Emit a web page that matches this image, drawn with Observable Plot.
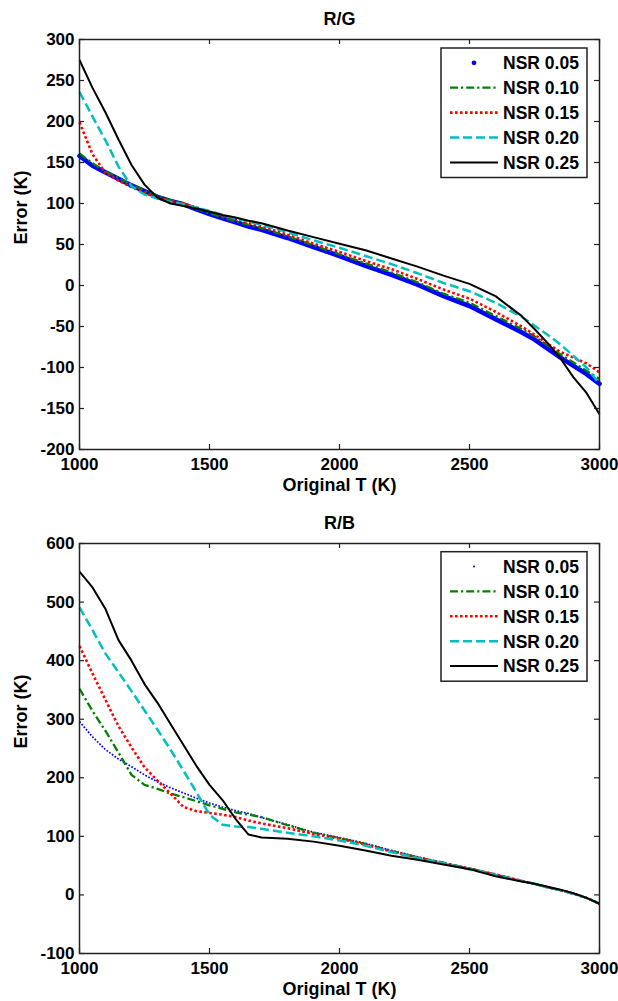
<!DOCTYPE html>
<html>
<head>
<meta charset="utf-8">
<script src="https://cdn.jsdelivr.net/npm/d3@7"></script>
<script src="https://cdn.jsdelivr.net/npm/@observablehq/plot@0.6"></script>
<style>
  body { margin: 0; background: #fff; }
  #wrap { position: relative; width: 618px; height: 1001px; overflow: hidden; background: #fff; }
  .panel { position: absolute; left: 0; display: block; }
</style>
</head>
<body>
<div id="wrap"></div>
<script>
// ---- Data ----
const T = [1000,1050,1100,1150,1200,1250,1300,1350,1400,1450,1500,1550,1600,1650,1700,1800,1900,2000,2100,2200,2300,2400,2500,2600,2700,2750,2800,2850,2900,2950,3000];

// R/G panel: error (K) for each NSR level
const rg05 = [158,146,138,130,122,115,108,103,99,93,87,82,77,72,68,58,47,36,24,13,1,-13,-25,-41,-57,-66,-77,-88,-98,-108,-120];
const rg10 = [161,149,139,131,123,116,109,104,100,94,88,83,78,74,70,60,49,38,27,16,4,-10,-21,-37,-53,-62,-73,-84,-94,-104,-114];
const rg15 = [199,160,137,128,120,113,107,103,100,95,90,85,81,76,72,62,51,41,30,20,8,-5,-16,-32,-50,-60,-71,-81,-88,-95,-106];
const rg20 = [236,206,177,145,121,111,106,102,99,95,91,86,82,78,74,65,55,46,36,26,15,3,-7,-21,-38,-49,-60,-72,-86,-100,-120];
const rg25 = [275,241,211,178,147,123,107,100,97,94,90,86,83,79,76,67,59,51,43,33,23,12,2,-13,-37,-53,-70,-89,-112,-131,-157];

// R/B panel
const rb05 = [296,270,248,232,219,205,193,183,174,165,157,150,144,139,132,120,107,98,88,76,65,55,45,35,24,19,13,8,2,-5,-15];
const rb10 = [352,314,280,243,205,188,181,173,167,160,153,147,141,137,133,119,106,97,87,75,64,55,45,35,24,19,13,8,2,-5,-15];
const rb15 = [425,378,333,288,252,218,195,173,150,143,140,137,133,127,122,114,104,96,86,74,64,54,45,35,24,19,13,8,2,-5,-15];
const rb20 = [491,452,412,380,348,315,282,248,212,175,137,120,117,116,113,106,100,93,84,73,63,54,44,34,24,19,13,8,2,-5,-15];
const rb25 = [552,525,488,435,400,360,328,292,256,220,188,162,130,103,98,96,91,84,76,67,60,52,44,32,23,19,14,9,3,-5,-15];

const seriesNames = ["NSR 0.05", "NSR 0.10", "NSR 0.15", "NSR 0.20", "NSR 0.25"];
const xTicks = [1000, 1500, 2000, 2500, 3000];
const rgYTicks = [-200, -150, -100, -50, 0, 50, 100, 150, 200, 250, 300];
const rbYTicks = [-100, 0, 100, 200, 300, 400, 500, 600];

// ---- Styles ----
const colors = ["#0000ff", "#008000", "#ff0000", "#00bfbf", "#000000"];
const lineStyles = [
  null, // blue: panel specific
  {strokeWidth: 2.3, strokeDasharray: "8,3,2.2,3"},
  {strokeWidth: 2.6, strokeDasharray: "2.6,2.4"},
  {strokeWidth: 2.5, strokeDasharray: "9,4"},
  {strokeWidth: 2, strokeDasharray: null}
];
const FONT = "'Liberation Sans', Arial, Helvetica, sans-serif";

const panels = [
  {title: "R/G", series: [rg05, rg10, rg15, rg20, rg25], yDomain: [-200, 300], yTicks: rgYTicks,
   top: 0, height: 500, marginTop: 39, marginBottom: 51, legendTop: 48,
   blue: {strokeWidth: 4.6, strokeDasharray: null, cap: "round"}, blueDot: 2.4},
  {title: "R/B", series: [rb05, rb10, rb15, rb20, rb25], yDomain: [-100, 600], yTicks: rbYTicks,
   top: 500, height: 501, marginTop: 43, marginBottom: 48, legendTop: 51.7,
   blue: {strokeWidth: 1.7, strokeDasharray: "1.7,1.6", cap: "butt"}, blueDot: 1.0}
];

const W = 618, ML = 79, MR = 19;
const plotW = W - ML - MR;
const fmt = d => String(d);
const wrap = document.getElementById("wrap");

for (const p of panels) {
  const plotH = p.height - p.marginTop - p.marginBottom;
  const lineMarks = p.series.map((arr, i) => {
    const st = i === 0 ? p.blue : lineStyles[i];
    const data = T.map((t, j) => ({t, v: arr[j]}));
    const opts = {x: "t", y: "v", stroke: colors[i], strokeWidth: st.strokeWidth,
                  strokeLinejoin: "round", strokeLinecap: st.cap || "butt", curve: "linear"};
    if (st.strokeDasharray) opts.strokeDasharray = st.strokeDasharray;
    return Plot.line(data, opts);
  });

  const chart = Plot.plot({
    width: W,
    height: p.height,
    marginLeft: ML,
    marginRight: MR,
    marginTop: p.marginTop,
    marginBottom: p.marginBottom,
    x: {domain: [1000, 3000]},
    y: {domain: p.yDomain},
    style: {fontFamily: FONT, fontSize: "17px", fontWeight: "bold", color: "black", background: "white", overflow: "visible"},
    marks: [
      Plot.axisX({ticks: xTicks, tickSize: 0, tickPadding: 8, label: null, tickFormat: fmt}),
      Plot.axisY({ticks: p.yTicks, tickSize: 0, tickPadding: 5, label: null, tickFormat: fmt}),
      ...lineMarks,
      // inward ticks on all four sides
      Plot.ruleX(xTicks, {x: d => d, insetTop: plotH - 5, stroke: "#222", strokeWidth: 1.2}),
      Plot.ruleX(xTicks, {x: d => d, insetBottom: plotH - 5, stroke: "#222", strokeWidth: 1.2}),
      Plot.ruleY(p.yTicks, {y: d => d, insetRight: plotW - 5, stroke: "#222", strokeWidth: 1.2}),
      Plot.ruleY(p.yTicks, {y: d => d, insetLeft: plotW - 5, stroke: "#222", strokeWidth: 1.2}),
      Plot.frame({stroke: "#222", strokeWidth: 1.5}),
      Plot.text([p.title], {text: d => d, frameAnchor: "top", dy: -20, lineAnchor: "middle", fontSize: 18, fontWeight: "bold", fill: "black"}),
      Plot.text(["Original T (K)"], {text: d => d, frameAnchor: "bottom", dy: 36, lineAnchor: "middle", fontSize: 18, fontWeight: "bold", fill: "black"}),
      Plot.text(["Error (K)"], {text: d => d, frameAnchor: "left", dx: -58.5, rotate: -90, lineAnchor: "middle", fontSize: 18, fontWeight: "bold", fill: "black"})
    ]
  });
  chart.classList.add("panel");
  chart.style.top = p.top + "px";
  wrap.appendChild(chart);

  // legend box (inside axes, upper right), drawn into the same SVG in pixel coordinates
  const LX = 441, LY = p.legendTop, LW = 146, LH = 129.5;
  const lg = d3.select(chart).append("g").attr("class", "legend").attr("text-anchor", "start");
  lg.append("rect").attr("x", LX).attr("y", LY).attr("width", LW).attr("height", LH)
    .attr("fill", "white").attr("stroke", "#222").attr("stroke-width", 1.5);
  seriesNames.forEach((name, i) => {
    const cy = LY + 14.8 + i * 24.9;
    if (i === 0) {
      lg.append("circle").attr("cx", LX + 33).attr("cy", cy).attr("r", p.blueDot).attr("fill", colors[0]);
    } else {
      const st = lineStyles[i];
      const ln = lg.append("line").attr("x1", LX + 9).attr("x2", LX + 57).attr("y1", cy).attr("y2", cy)
        .attr("stroke", colors[i]).attr("stroke-width", st.strokeWidth).attr("stroke-linecap", "butt");
      if (st.strokeDasharray) ln.attr("stroke-dasharray", st.strokeDasharray);
    }
    lg.append("text").attr("x", LX + 62).attr("y", cy).attr("dy", "0.36em")
      .attr("text-anchor", "start")
      .attr("font-family", FONT).attr("font-size", 17.5).attr("font-weight", "bold")
      .attr("fill", "black").text(name);
  });
}
</script>
</body>
</html>
